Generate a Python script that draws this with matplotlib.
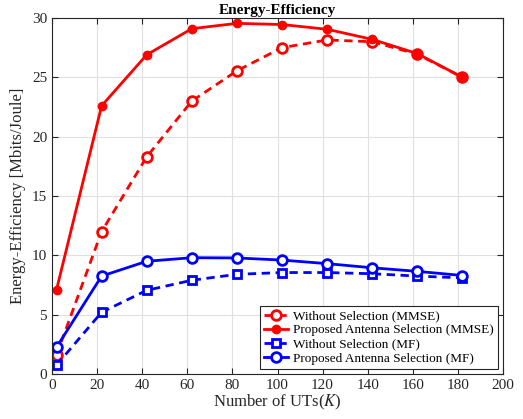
import numpy as np
import matplotlib
matplotlib.use("Agg")
import matplotlib.pyplot as plt

plt.rcParams['font.family'] = ['Liberation Serif', 'DejaVu Serif']
plt.rcParams['mathtext.fontset'] = 'stix'

# number of UTs
k_uts = [2, 22, 42, 62, 82, 102, 122, 142, 162, 182]

ee_mmse_nosel = [1.6, 12.0, 18.3, 23.0, 25.55, 27.5, 28.15, 28.0, 26.95, 25.0]
ee_mmse_sel = [7.1, 22.6, 26.9, 29.1, 29.55, 29.45, 29.05, 28.2, 27.0, 25.0]
ee_mf_nosel = [0.75, 5.2, 7.05, 7.9, 8.4, 8.55, 8.55, 8.45, 8.25, 8.1]
ee_mf_sel = [2.25, 8.25, 9.5, 9.8, 9.78, 9.6, 9.3, 8.95, 8.65, 8.3]

fig = plt.figure(figsize=(5.23, 4.19), dpi=100)
ax = fig.add_axes([52/523, 45/419, 451/523, 356/419])

ax.plot(k_uts, ee_mmse_nosel, color='red', linestyle=(0, (3, 2)), linewidth=2,
        marker='o', markersize=7, markerfacecolor='white', markeredgewidth=2,
        label='Without Selection (MMSE)')
ax.plot(k_uts, ee_mmse_sel, color='red', linestyle='-', linewidth=2,
        marker='o', markersize=6, markerfacecolor='red',
        label='Proposed Antenna Selection (MMSE)')
ax.plot(k_uts, ee_mf_nosel, color='blue', linestyle=(0, (3, 2)), linewidth=2,
        marker='s', markersize=5.5, markerfacecolor='white', markeredgewidth=2,
        label='Without Selection (MF)')
ax.plot(k_uts, ee_mf_sel, color='blue', linestyle='-', linewidth=2,
        marker='o', markersize=7, markerfacecolor='white', markeredgewidth=2,
        label='Proposed Antenna Selection (MF)')

ax.set_xlim(0, 200)
ax.set_ylim(0, 30)
ax.set_xticks(np.arange(0, 201, 20))
ax.set_yticks(np.arange(0, 31, 5))
ax.grid(True, color='#e0e0e0', linewidth=0.8)
ax.set_axisbelow(True)
ax.tick_params(direction='in', top=True, right=True, labelsize=11, colors='#262626', length=4)
for s in ax.spines.values():
    s.set_color('#262626')
    s.set_linewidth(0.8)

ax.set_xlabel(r'Number of UTs($K$)', fontsize=12, color='#262626', labelpad=1)
ax.set_ylabel('Energy-Efficiency [Mbits/Joule]', fontsize=12, color='#262626', labelpad=4)
ax.set_title('Energy-Efficiency', fontsize=11, fontweight='bold', pad=3)

leg = ax.legend(loc='lower right', fontsize=9.5, fancybox=False, framealpha=1,
                edgecolor='#262626', handlelength=1.8, borderpad=0.3,
                labelspacing=0.15, handletextpad=0.4, borderaxespad=0.4)
leg.get_frame().set_linewidth(0.8)

fig.savefig('out.png', dpi=100)
